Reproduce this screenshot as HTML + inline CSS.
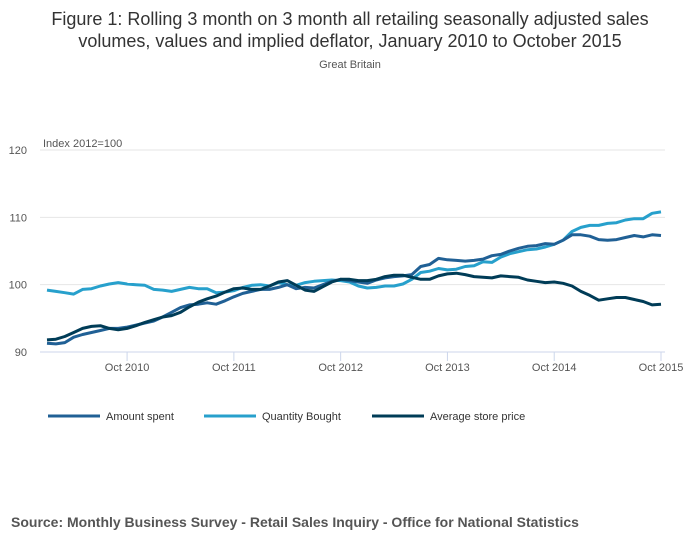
<!DOCTYPE html><html><head><meta charset="utf-8"><style>
body{margin:0;background:#fff;font-family:"Liberation Sans",sans-serif;}
svg text{font-family:"Liberation Sans",sans-serif;}
</style></head><body>
<svg width="700" height="549" id="c">
<text x="350" y="25" text-anchor="middle" font-size="18" fill="#333">Figure 1: Rolling 3 month on 3 month all retailing seasonally adjusted sales</text>
<text x="350" y="47" text-anchor="middle" font-size="18" fill="#333">volumes, values and implied deflator, January 2010 to October 2015</text>
<text x="350" y="68" text-anchor="middle" font-size="11" fill="#555">Great Britain</text>
<text x="43" y="147" font-size="11" fill="#555">Index 2012=100</text>
<g id="grid"></g><g id="series"></g>
<g>
<line x1="48" y1="416" x2="100" y2="416" stroke="#206095" stroke-width="3"/><text x="106" y="420" font-size="11" fill="#333">Amount spent</text>
<line x1="204" y1="416" x2="256" y2="416" stroke="#27a0cc" stroke-width="3"/><text x="262" y="420" font-size="11" fill="#333">Quantity Bought</text>
<line x1="372" y1="416" x2="424" y2="416" stroke="#003c57" stroke-width="3"/><text x="430" y="420" font-size="11" fill="#333">Average store price</text>
</g>
<text x="11" y="527" font-size="14" font-weight="bold" fill="#555">Source: Monthly Business Survey - Retail Sales Inquiry - Office for National Statistics</text>
</svg>
<script>
const yTicks=[90,100,110,120];
const xTickLabels=["Oct 2010","Oct 2011","Oct 2012","Oct 2013","Oct 2014","Oct 2015"];
const xTickIdx=[9,21,33,45,57,69];
const amount=[91.3,91.2,91.4,92.2,92.6,92.9,93.2,93.5,93.5,93.7,94.0,94.3,94.6,95.2,95.9,96.6,97.0,97.1,97.3,97.1,97.6,98.2,98.7,99.0,99.3,99.3,99.6,100.0,99.4,99.6,99.5,100.0,100.5,100.8,100.6,100.4,100.2,100.7,101.0,101.2,101.3,101.5,102.7,103.0,103.9,103.7,103.6,103.5,103.6,103.8,104.3,104.5,105.0,105.4,105.7,105.8,106.1,106.0,106.6,107.4,107.4,107.2,106.7,106.6,106.7,107.0,107.3,107.1,107.4,107.3];
const quantity=[99.2,99.0,98.8,98.6,99.3,99.4,99.8,100.1,100.3,100.1,100.0,99.9,99.3,99.2,99.0,99.3,99.6,99.4,99.4,98.8,98.9,99.1,99.6,99.9,100.0,99.8,100.3,100.0,99.9,100.3,100.5,100.6,100.7,100.6,100.4,99.8,99.5,99.6,99.8,99.8,100.1,100.8,101.8,102.0,102.4,102.2,102.3,102.7,102.8,103.4,103.3,104.1,104.6,104.9,105.2,105.3,105.6,106.0,106.6,107.9,108.5,108.8,108.8,109.1,109.2,109.6,109.8,109.8,110.6,110.8];
const price=[91.8,91.9,92.3,92.9,93.5,93.8,93.9,93.5,93.3,93.5,93.9,94.4,94.8,95.2,95.4,95.9,96.7,97.4,97.9,98.3,98.9,99.4,99.5,99.3,99.3,99.8,100.4,100.6,99.9,99.2,99.0,99.7,100.4,100.8,100.8,100.6,100.6,100.8,101.2,101.4,101.4,101.1,100.8,100.8,101.3,101.6,101.7,101.5,101.2,101.1,101.0,101.3,101.2,101.1,100.7,100.5,100.3,100.4,100.2,99.8,99.0,98.4,97.7,97.9,98.1,98.1,97.8,97.5,97.0,97.1];
const NS='http://www.w3.org/2000/svg';
const x=i=>47+i*(661-47)/69;
const y=v=>352-(v-90)*(352-150)/30;
const grid=document.getElementById('grid');
function mk(t,a,p){const e=document.createElementNS(NS,t);for(const k in a)e.setAttribute(k,a[k]);p.appendChild(e);return e;}
yTicks.forEach(v=>{
 if(v>90){const l=mk('line',{x1:40,x2:665,y1:y(v),y2:y(v),stroke:'#e6e6e6'},grid);
 
 }
 const t=mk('text',{x:27,y:y(v)+4,'text-anchor':'end','font-size':11,fill:'#555'},grid);t.textContent=v;
 
 
});
const ax=mk('line',{x1:40,x2:665,y1:352,y2:352,stroke:'#ccd6eb'},grid);


xTickIdx.forEach((i,k)=>{
 mk('line',{x1:x(i),x2:x(i),y1:352,y2:361,stroke:'#ccd6eb'},grid);
 const t=mk('text',{x:x(i),y:371,'text-anchor':'middle','font-size':11,fill:'#555'},grid);t.textContent=xTickLabels[k];
 
 
});
const sg=document.getElementById('series');
[[quantity,'#27a0cc','line-quantity-bought'],[amount,'#206095','line-amount-spent'],[price,'#003c57','line-average-store-price']].forEach(([d,c,n])=>{
 const p=mk('path',{d:d.map((v,i)=>(i?'L':'M')+x(i).toFixed(1)+','+y(v).toFixed(1)).join(''),fill:'none',stroke:c,'stroke-width':3,'stroke-linejoin':'round'},sg);
 
 
});
</script>
</body></html>
